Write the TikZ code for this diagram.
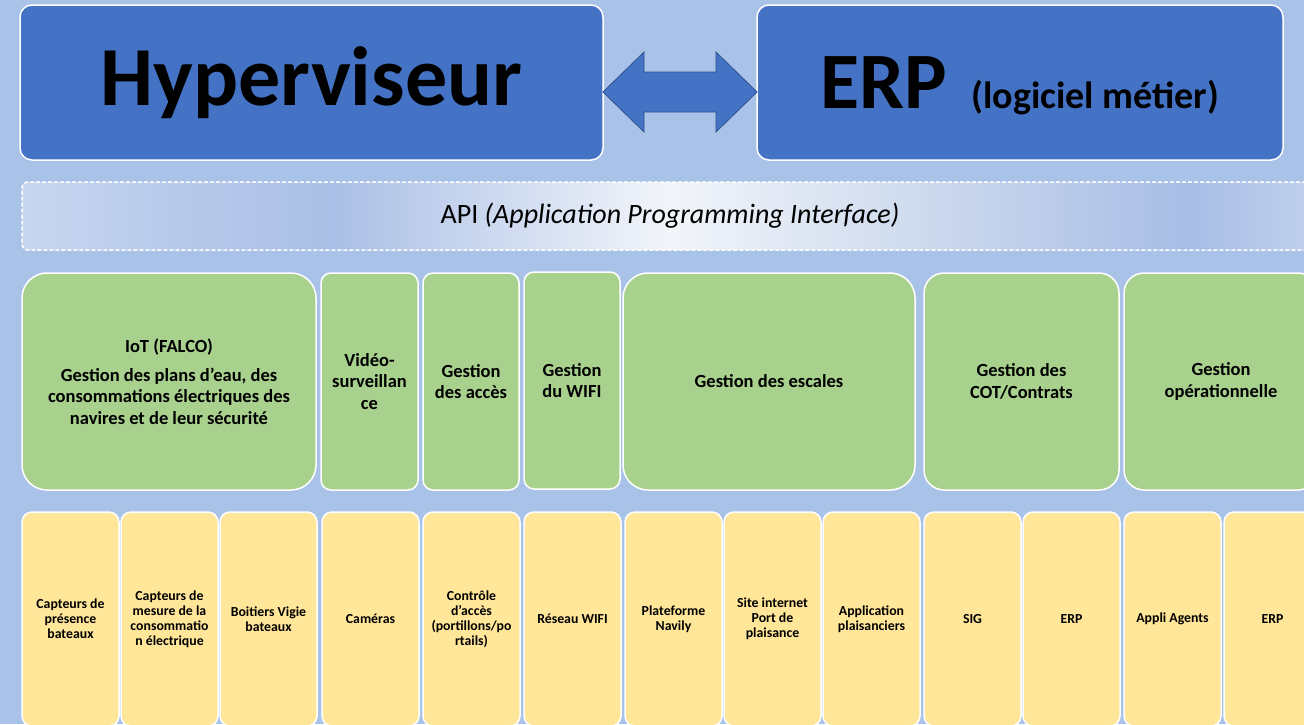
\documentclass[tikz,border=0pt]{standalone}
\usepackage{fontspec}
\setmainfont{Carlito}
\usetikzlibrary{calc}

\definecolor{bgblue}{HTML}{A9C2E7}
\definecolor{topblue}{HTML}{4472C4}
\definecolor{arrowedge}{HTML}{2F528F}
\definecolor{lotgreen}{HTML}{A9D18E}
\definecolor{itemyellow}{HTML}{FFE699}

% light - dark - white - dark - light band behind the API label
\pgfdeclarehorizontalshading{apiband}{100bp}{%
  rgb(0bp)=(0.78,0.84,0.94); rgb(25bp)=(0.78,0.84,0.94);
  rgb(31bp)=(0.72,0.79,0.92); rgb(37bp)=(0.67,0.75,0.90);
  rgb(50bp)=(0.95,0.96,0.98); rgb(60bp)=(0.80,0.85,0.93);
  rgb(70bp)=(0.66,0.74,0.90); rgb(75bp)=(0.76,0.82,0.93);
  rgb(100bp)=(0.76,0.82,0.93)}

\tikzset{
  box/.style={draw=white, line width=1.5pt, anchor=north west, inner sep=0pt,
    outer sep=0pt, align=center, font=\bfseries},
  topbox/.style={box, fill=topblue, rounded corners=12pt, minimum height=155pt},
  lotbox/.style={box, fill=lotgreen, minimum height=217pt,
    font=\bfseries\fontsize{18.5}{21.5}\selectfont},
  itembox/.style={box, fill=itemyellow, rounded corners=10pt, minimum width=97pt,
    minimum height=214pt, font=\bfseries\fontsize{13.8}{15}\selectfont},
  apibox/.style={shade, shading=apiband, draw=white, line width=1.5pt,
    dash pattern=on 4pt off 2pt, rounded corners=6pt, anchor=north west,
    minimum width=1296pt, minimum height=68pt, inner sep=0pt, outer sep=0pt,
    font=\fontsize{28}{33}\selectfont},
  linkarrow/.style={fill=topblue, draw=arrowedge, line width=0.8pt, line join=miter}
}

\begin{document}
\begin{tikzpicture}[x=1pt, y=-1pt]
  \useasboundingbox (0,0) rectangle (1304,724);
  \clip (0,0) rectangle (1304,724);
  \fill[bgblue] (0,0) rectangle (1304,724);

  % top level
  \node[topbox, minimum width=583pt] (hyp) at (20,5)
    {\fontsize{84}{96}\selectfont Hyperviseur};
  \node[topbox, minimum width=526pt, text height=60pt, text depth=9pt] (erp) at (757,5)
    {\fontsize{80}{96}\selectfont ERP\hspace{24pt}\fontsize{38}{46}\selectfont (logiciel métier)};

  % two-way link between the two
  \coordinate (la) at ($(hyp.east)+(0,9.5)$);
  \coordinate (lb) at ($(erp.west)+(0,9.5)$);
  \filldraw[linkarrow] (la) -- ($(la)+(41,-40)$) -- ($(la)+(41,-20)$)
    -- ($(lb)+(-41,-20)$) -- ($(lb)+(-41,-40)$) -- (lb)
    -- ($(lb)+(-41,40)$) -- ($(lb)+(-41,20)$)
    -- ($(la)+(41,20)$) -- ($(la)+(41,40)$) -- cycle;

  % API layer
  \node[apibox] (api) at (22,182) {API \textit{(Application Programming Interface)}};

  % functional lots
  \node[lotbox, rounded corners=25pt, minimum width=294pt] (iot) at (22,273)
    {IoT (FALCO)\\[7pt]Gestion des plans d’eau, des\\consommations électriques des\\navires et de leur sécurité};
  \node[lotbox, rounded corners=10pt, minimum width=97pt] (video) at (321,273)
    {Vidéo-\\surveillan\\ce};
  \node[lotbox, rounded corners=10pt, minimum width=96pt] (acces) at (423,273)
    {Gestion\\des accès};
  \node[lotbox, rounded corners=10pt, minimum width=96pt] (wifi) at (524,272)
    {Gestion\\du WIFI};
  \node[lotbox, rounded corners=25pt, minimum width=292pt] (escales) at (623,273)
    {Gestion des escales};
  \node[lotbox, rounded corners=20pt, minimum width=195pt] (cot) at (924,273)
    {Gestion des\\COT/Contrats};
  \node[lotbox, rounded corners=20pt, minimum width=194pt] (oper) at (1124,273)
    {Gestion\\opérationnelle};

  % tools and equipment
  \node[itembox] (presence) at (22,512) {Capteurs de\\présence\\bateaux};
  \node[itembox] (mesure) at (121,512) {Capteurs de\\mesure de la\\consommatio\\n électrique};
  \node[itembox] (vigie) at (220,512) {Boitiers Vigie\\bateaux};
  \node[itembox] (cameras) at (322,512) {Caméras};
  \node[itembox] (controle) at (423,512) {Contrôle\\d’accès\\(portillons/po\\rtails)};
  \node[itembox] (reseau) at (524,512) {Réseau WIFI};
  \node[itembox] (navily) at (625,512) {Plateforme\\Navily};
  \node[itembox] (site) at (724,512) {Site internet\\Port de\\plaisance};
  \node[itembox] (appli) at (823,512) {Application\\plaisanciers};
  \node[itembox] (sig) at (924,512) {SIG};
  \node[itembox] (erpcot) at (1023,512) {ERP};
  \node[itembox] (agents) at (1124,512) {Appli Agents};
  \node[itembox] (erpoper) at (1224,512) {ERP};
\end{tikzpicture}
\end{document}
